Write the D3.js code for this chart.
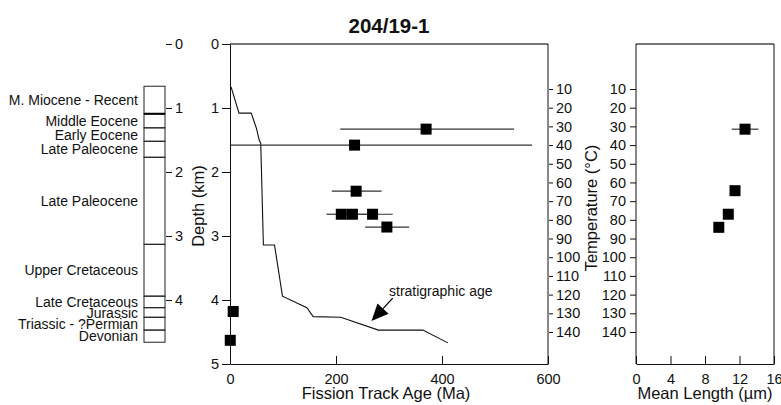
<!DOCTYPE html>
<title>204/19-1</title>
<body>
<script src="https://cdn.jsdelivr.net/npm/d3@7"></script>
<style>
  html, body {
    width: 100%;
    height: 100%;
    margin: 0;
    overflow: hidden;
    background: #fff;
  }
  text { font-family: "Liberation Sans", Arial, sans-serif; fill: #111; }
  .axis text { font-size: 14.5px; }
  .axis line, .axis path { stroke: #111; }
</style>
<script>
  // fission track ages vs depth (main panel)
  var ftAge   = [370, 235, 238, 210, 231, 269, 296, 6, 0.5],
      ftLo    = [208, 0, 192, 182, 200, 230, 255, 0, 0.5],
      ftHi    = [536, 570, 286, 240, 265, 307, 338, 16, 0.5],
      ftDepth = [1.33, 1.58, 2.30, 2.66, 2.66, 2.66, 2.86, 4.18, 4.63];

  // stratigraphic age curve
  var stratAge   = [2, 17, 40, 50, 55, 58, 63, 84, 99, 145, 157, 209, 280, 364, 411],
      stratDepth = [0.67, 1.08, 1.08, 1.32, 1.50, 1.55, 3.14, 3.14, 3.94, 4.12, 4.26, 4.27, 4.47, 4.47, 4.67];

  // mean track length vs temperature (right panel)
  var lenMean = [12.64, 11.48, 10.7, 9.6],
      lenLo   = [11.1, 11.48, 10.7, 9.6],
      lenHi   = [14.2, 11.48, 10.7, 9.6],
      lenTemp = [31.5, 64.4, 77, 84];

  // stratigraphic column (unit tops, last entry is the base)
  var unitNames = ["M. Miocene - Recent", "Middle Eocene", "Early Eocene", "Late Paleocene",
                   "Late Paleocene", "Upper Cretaceous", "Late Cretaceous", "Jurassic",
                   "Triassic - ?Permian", "Devonian"],
      unitTops  = [0.66, 1.09, 1.31, 1.52, 1.77, 3.13, 3.94, 4.12, 4.27, 4.47, 4.66];

  var depthTicks = [0, 1, 2, 3, 4, 5],
      ageTicks   = [0, 200, 400, 600],
      tempTicks  = [10, 20, 30, 40, 50, 60, 70, 80, 90, 100, 110, 120, 130, 140],
      lenTicks   = [0, 4, 8, 12, 16];

  var width = 781, height = 405;

  var svg = d3.select("body").append("svg")
    .attr("width", width)
    .attr("height", height);

  var y = d3.scaleLinear().domain([0, 5]).range([44, 364]),
      x = d3.scaleLinear().domain([0, 600]).range([230, 548]),
      t = d3.scaleLinear().domain([10, 140]).range([89, 332]),
      xl = d3.scaleLinear().domain([0, 16]).range([636, 774]);

  var fmt = d3.format("d");

  /* ---- stratigraphic column ---- */
  var col = svg.append("g");
  col.selectAll("rect")
    .data(unitNames)
    .enter().append("rect")
    .attr("x", 144)
    .attr("width", 21)
    .attr("y", function(d, i) { return y(unitTops[i]); })
    .attr("height", function(d, i) { return y(unitTops[i + 1]) - y(unitTops[i]); })
    .attr("fill", "none")
    .attr("stroke", "#222")
    .attr("stroke-width", 1);
  // thicker boundary at base of Miocene
  col.append("line")
    .attr("x1", 144).attr("x2", 165)
    .attr("y1", y(unitTops[1])).attr("y2", y(unitTops[1]))
    .attr("stroke", "#000").attr("stroke-width", 2);

  col.selectAll("text.unit")
    .data(unitNames)
    .enter().append("text")
    .attr("class", "unit")
    .attr("x", 138)
    .attr("y", function(d, i) { return (y(unitTops[i]) + y(unitTops[i + 1])) / 2; })
    .attr("dy", "0.36em")
    .attr("text-anchor", "end")
    .style("font-size", "14px")
    .text(function(d) { return d; });

  svg.append("g")
    .attr("class", "axis")
    .attr("transform", "translate(166,0)")
    .call(d3.axisRight(y).tickValues(depthTicks.slice(0, 5)).tickFormat(fmt).tickSize(6).tickPadding(3))
    .call(function(g) { g.select(".domain").remove(); });

  /* ---- main panel ---- */
  var main = svg.append("g");

  main.append("line")
    .attr("x1", 230).attr("x2", 548).attr("y1", 44).attr("y2", 44)
    .attr("stroke", "#777").attr("stroke-width", 2);
  main.append("line")
    .attr("x1", 548).attr("x2", 548).attr("y1", 44).attr("y2", 364)
    .attr("stroke", "#111");

  svg.append("g")
    .attr("class", "axis")
    .attr("transform", "translate(230,0)")
    .call(d3.axisLeft(y).tickValues(depthTicks).tickFormat(fmt).tickSize(8).tickPadding(3).tickSizeOuter(0));

  svg.append("g")
    .attr("class", "axis")
    .attr("transform", "translate(0,364)")
    .call(d3.axisBottom(x).tickValues(ageTicks).tickSizeInner(-8).tickSizeOuter(0).tickPadding(10));

  svg.append("g")
    .attr("class", "axis")
    .attr("transform", "translate(549,0)")
    .call(d3.axisRight(t).tickValues(tempTicks).tickSize(4).tickPadding(3))
    .call(function(g) { g.select(".domain").remove(); });

  // stratigraphic age curve
  main.append("path")
    .datum(d3.range(stratAge.length))
    .attr("fill", "none")
    .attr("stroke", "#111")
    .attr("stroke-width", 1.1)
    .attr("d", d3.line()
      .x(function(i) { return x(stratAge[i]); })
      .y(function(i) { return y(stratDepth[i]); }));

  // error bars
  main.selectAll("line.err")
    .data(ftAge)
    .enter().append("line")
    .attr("class", "err")
    .attr("x1", function(d, i) { return x(ftLo[i]); })
    .attr("x2", function(d, i) { return x(ftHi[i]); })
    .attr("y1", function(d, i) { return y(ftDepth[i]); })
    .attr("y2", function(d, i) { return y(ftDepth[i]); })
    .attr("stroke", "#333")
    .attr("stroke-width", 1.2);

  main.selectAll("rect.pt")
    .data(ftAge)
    .enter().append("rect")
    .attr("class", "pt")
    .attr("x", function(d) { return x(d) - 5.5; })
    .attr("y", function(d, i) { return y(ftDepth[i]) - 5.5; })
    .attr("width", 11)
    .attr("height", 11)
    .attr("fill", "#000");

  // annotation with arrow
  var tail = [x(307), y(3.97)], tip = [x(267), y(4.33)];
  var ang = Math.atan2(tip[1] - tail[1], tip[0] - tail[0]),
      hl = 17, hw = 7.5;
  var bx = tip[0] - hl * Math.cos(ang), by = tip[1] - hl * Math.sin(ang);
  main.append("line")
    .attr("x1", tail[0]).attr("y1", tail[1])
    .attr("x2", bx).attr("y2", by)
    .attr("stroke", "#000").attr("stroke-width", 1.3);
  main.append("path")
    .attr("d", "M" + tip + "L" + [bx - hw * Math.sin(ang), by + hw * Math.cos(ang)] +
               "L" + [bx + hw * Math.sin(ang), by - hw * Math.cos(ang)] + "Z")
    .attr("fill", "#000");
  main.append("text")
    .attr("x", x(300))
    .attr("y", y(3.94))
    .style("font-size", "14px")
    .text("stratigraphic age");

  /* ---- right panel ---- */
  var right = svg.append("g");
  right.append("line")
    .attr("x1", 636).attr("x2", 774).attr("y1", 44).attr("y2", 44)
    .attr("stroke", "#777").attr("stroke-width", 2);
  right.append("line")
    .attr("x1", 774).attr("x2", 774).attr("y1", 44).attr("y2", 364)
    .attr("stroke", "#111");
  right.append("line")
    .attr("x1", 636).attr("x2", 636).attr("y1", 44).attr("y2", 364)
    .attr("stroke", "#111");

  svg.append("g")
    .attr("class", "axis")
    .attr("transform", "translate(636,0)")
    .call(d3.axisLeft(t).tickValues(tempTicks).tickSize(6).tickPadding(4))
    .call(function(g) { g.select(".domain").remove(); });

  svg.append("g")
    .attr("class", "axis")
    .attr("transform", "translate(0,364)")
    .call(d3.axisBottom(xl).tickValues(lenTicks).tickSizeInner(-8).tickSizeOuter(0).tickPadding(10));

  right.selectAll("line.err")
    .data(lenMean)
    .enter().append("line")
    .attr("class", "err")
    .attr("x1", function(d, i) { return xl(lenLo[i]); })
    .attr("x2", function(d, i) { return xl(lenHi[i]); })
    .attr("y1", function(d, i) { return t(lenTemp[i]); })
    .attr("y2", function(d, i) { return t(lenTemp[i]); })
    .attr("stroke", "#333")
    .attr("stroke-width", 1.2);

  right.selectAll("rect.pt")
    .data(lenMean)
    .enter().append("rect")
    .attr("class", "pt")
    .attr("x", function(d) { return xl(d) - 5.5; })
    .attr("y", function(d, i) { return t(lenTemp[i]) - 5.5; })
    .attr("width", 11)
    .attr("height", 11)
    .attr("fill", "#000");

  /* ---- titles ---- */
  svg.append("text")
    .attr("x", 389).attr("y", 33)
    .attr("text-anchor", "middle")
    .style("font-size", "20.5px")
    .style("font-weight", "bold")
    .text("204/19-1");

  svg.append("text")
    .attr("x", 386).attr("y", 399)
    .attr("text-anchor", "middle")
    .style("font-size", "16.5px")
    .text("Fission Track Age (Ma)");

  svg.append("text")
    .attr("x", 705).attr("y", 399)
    .attr("text-anchor", "middle")
    .style("font-size", "16.5px")
    .text("Mean Length (\u00b5m)");

  svg.append("text")
    .attr("transform", "translate(204,206) rotate(-90)")
    .attr("text-anchor", "middle")
    .style("font-size", "16.5px")
    .text("Depth (km)");

  svg.append("text")
    .attr("transform", "translate(597,208) rotate(-90)")
    .attr("text-anchor", "middle")
    .style("font-size", "16.5px")
    .text("Temperature (\u00b0C)");
</script>
